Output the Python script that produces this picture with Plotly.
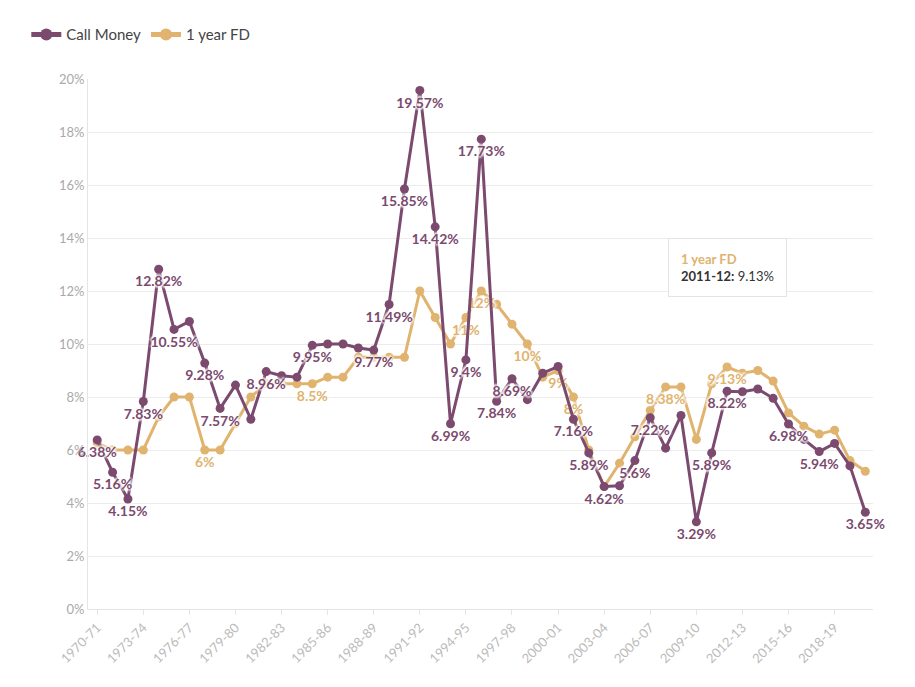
import plotly.graph_objects as go

years = [f"{y}-{str(y+1)[-2:]}" for y in range(1970, 2021)]
call_money = [6.38,5.16,4.15,7.83,12.82,10.55,10.85,9.28,7.57,8.45,7.16,8.96,8.8,8.75,9.95,10.0,10.0,9.85,9.77,11.49,
              15.85,19.57,14.42,6.99,9.4,17.73,7.84,8.69,7.9,8.9,9.15,7.16,5.89,4.62,4.65,5.6,7.22,6.07,7.3,3.29,
              5.89,8.22,8.2,8.3,7.95,6.98,6.4,5.94,6.25,5.4,3.65]
fd = [6.25,6.0,6.0,6.0,7.25,8.0,8.0,6.0,6.0,7.0,8.0,8.5,8.5,8.5,8.5,8.75,8.75,9.5,9.5,9.5,
      9.5,12.0,11.0,10.0,11.0,12.0,11.5,10.75,10.0,8.75,9.0,8.0,6.0,4.62,5.5,6.5,7.5,8.38,8.38,6.4,
      8.5,9.13,8.9,9.0,8.6,7.4,6.9,6.6,6.75,5.6,5.2]
call_label_idx = [0,1,2,3,4,5,7,8,11,14,18,19,20,21,22,23,24,25,26,27,31,32,33,35,36,39,40,41,45,47,50]
fd_label_idx = [7,14,24,25,28,30,31,37,41]
tick_labels = years[::3]
y_ticks = list(range(0, 21, 2))

def fmt(v):
    return f"{v:g}%"

PURPLE = "#7b4a6e"
GOLD = "#e0b36e"
HALO = "2px 0 2px white, -2px 0 2px white, 0 2px 2px white, 0 -2px 2px white"
call_text = [fmt(v) if i in call_label_idx else "" for i, v in enumerate(call_money)]
fd_text = [fmt(v) if i in fd_label_idx else "" for i, v in enumerate(fd)]

fig = go.Figure()
fig.add_trace(go.Scatter(x=years, y=fd, name="1 year FD", mode="lines+markers+text",
                         line=dict(color=GOLD, width=3), marker=dict(size=9, color=GOLD),
                         text=fd_text, textposition="bottom center", cliponaxis=False,
                         textfont=dict(color=GOLD, size=14, family="Lato", weight="bold", shadow=HALO)))
fig.add_trace(go.Scatter(x=years, y=call_money, name="Call Money", mode="lines+markers+text",
                         line=dict(color=PURPLE, width=3), marker=dict(size=9, color=PURPLE),
                         text=call_text, textposition="bottom center", cliponaxis=False,
                         textfont=dict(color=PURPLE, size=14, family="Lato", weight="bold", shadow=HALO)))

fig.add_annotation(x=years[41], y=fd[41], ax=0, ay=-70, showarrow=True, arrowcolor="white", arrowwidth=0.1,
                   text="<span style='color:#e0b36e'><b>1 year FD</b></span><br><b>2011-12:</b> 9.13%",
                   align="left", bgcolor="white", bordercolor="#e3e3e3", borderwidth=1, borderpad=12,
                   font=dict(family="Lato", size=13, color="#333"), xanchor="center", yanchor="bottom")

fig.update_layout(
    width=915, height=687, plot_bgcolor="white", paper_bgcolor="white",
    margin=dict(l=80, r=50, t=71, b=86, autoexpand=False),
    font=dict(family="Lato", color="#999"),
    legend=dict(orientation="h", x=0.02, xref="container", y=0.985, yref="container",
                xanchor="left", yanchor="top",
                traceorder="reversed", font=dict(size=15, color="#444"), itemsizing="constant"),
    showlegend=True,
)
fig.update_xaxes(type="category", range=[-0.6, 50.5], tickvals=tick_labels, ticktext=tick_labels,
                 tickangle=-45, tickfont=dict(size=13, color="#bbb"), showgrid=False,
                 showline=True, linecolor="#e5e5e5", ticks="outside", tickcolor="#e5e5e5", ticklen=5)
fig.update_yaxes(range=[0, 20], tickvals=y_ticks, ticktext=[f"{t}%" for t in y_ticks],
                 tickfont=dict(size=13, color="#aaa"), gridcolor="#ececec", zeroline=False,
                 showline=True, linecolor="#e5e5e5")
fig.write_html("out.html")
